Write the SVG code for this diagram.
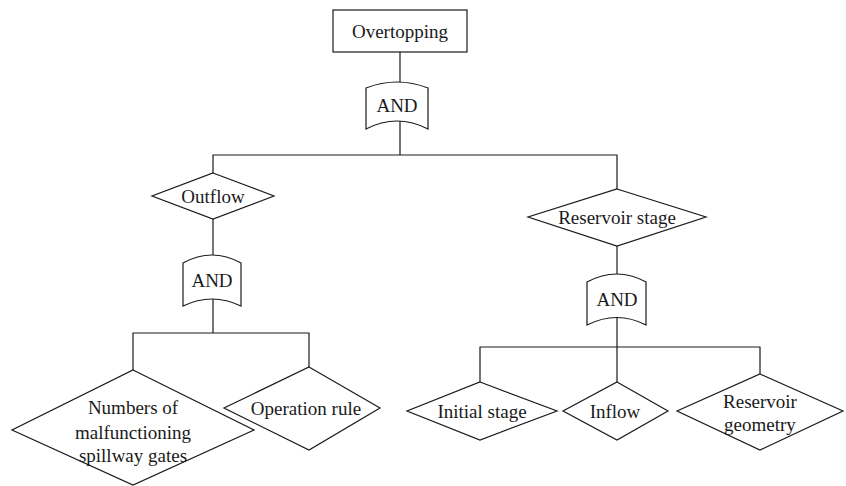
<svg xmlns="http://www.w3.org/2000/svg" width="846" height="486" viewBox="0 0 846 486">
  <style>
    .shape { fill: #ffffff; stroke: #1a1a1a; stroke-width: 1.2; }
    .wire { fill: none; stroke: #1a1a1a; stroke-width: 1.2; }
    text { font-family: "Liberation Serif", "Times New Roman", serif; font-size: 19px; fill: #1a1a1a; text-anchor: middle; }
  </style>
  <rect width="846" height="486" fill="#ffffff"/>

  <!-- connectors -->
  <g id="connectors" class="wire">
    <path d="M400,52 V82"/>
    <path d="M400,121 V155 M213,173 V155 H617 V189"/>
    <path d="M213,219 V255"/>
    <path d="M213,299 V333 M133,370 V333 H309 V367"/>
    <path d="M617,246 V274"/>
    <path d="M617,317 V382 M480,382 V347 H760 V374"/>
  </g>

  <!-- top event -->
  <g id="overtopping">
    <rect class="shape" x="333" y="10" width="134" height="42"/>
    <text x="400" y="38">Overtopping</text>
  </g>

  <!-- AND gates -->
  <g id="and-top">
    <path class="shape" d="M366,88 Q397,76 428,88 V129 Q397,113 366,129 Z"/>
    <text x="397" y="112">AND</text>
  </g>

  <g id="outflow">
    <polygon class="shape" points="213,173 274,196 213,219 152,196"/>
    <text x="213" y="203">Outflow</text>
  </g>

  <g id="and-outflow">
    <path class="shape" d="M183,263 Q212,247 241,263 V306 Q212,292 183,306 Z"/>
    <text x="212" y="287">AND</text>
  </g>

  <g id="reservoir-stage">
    <polygon class="shape" points="617,189 706,217 617,246 528,217"/>
    <text x="617" y="224">Reservoir stage</text>
  </g>

  <g id="and-stage">
    <path class="shape" d="M587,282 Q617,266 646,282 V325 Q617,310 587,325 Z"/>
    <text x="617" y="306">AND</text>
  </g>

  <!-- basic events -->
  <g id="malfunctioning-gates">
    <polygon class="shape" points="133,370 254,430 133,485 12,430"/>
    <text x="133" y="414">Numbers of</text>
    <text x="133" y="439">malfunctioning</text>
    <text x="133" y="462">spillway gates</text>
  </g>

  <g id="operation-rule">
    <polygon class="shape" points="309,367 380,408 309,450 224,408"/>
    <text x="306" y="415">Operation rule</text>
  </g>

  <g id="initial-stage">
    <polygon class="shape" points="480,382 557,411 480,440 407,411"/>
    <text x="482" y="418">Initial stage</text>
  </g>

  <g id="inflow">
    <polygon class="shape" points="617,382 668,411 617,440 563,411"/>
    <text x="615" y="418">Inflow</text>
  </g>

  <g id="reservoir-geometry">
    <polygon class="shape" points="760,374 843,411 760,450 677,411"/>
    <text x="760" y="408">Reservoir</text>
    <text x="760" y="431">geometry</text>
  </g>
</svg>
